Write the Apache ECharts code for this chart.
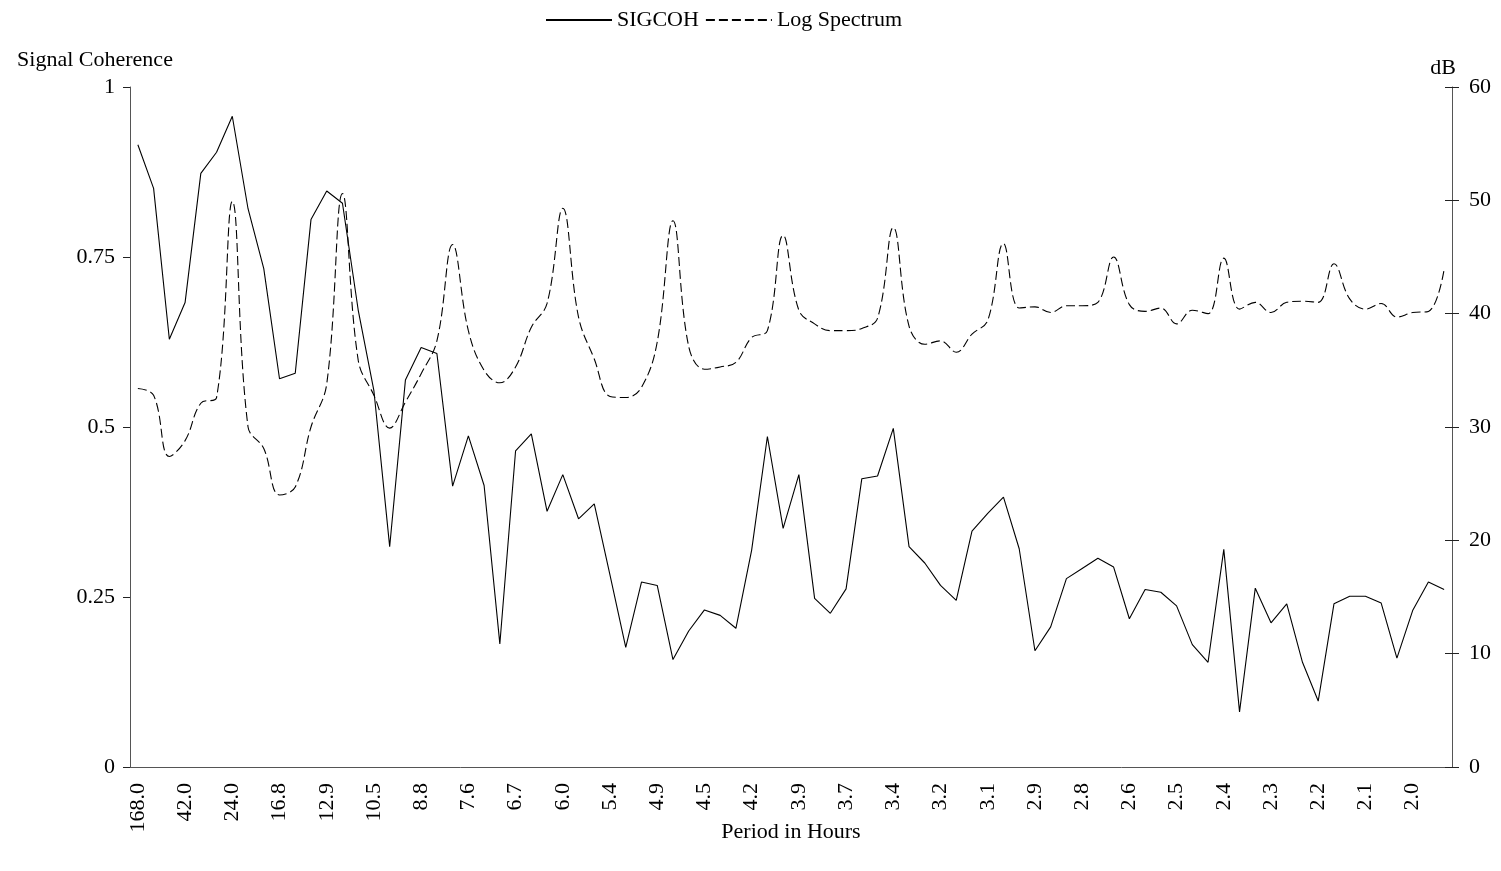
<!DOCTYPE html>
<html>
<head>
<meta charset="utf-8">
<script src="https://cdn.jsdelivr.net/npm/echarts@6/dist/echarts.min.js"></script>
<style>
html,body{margin:0;padding:0;background:#fff;}
#chart{width:1501px;height:871px;}
</style>
</head>
<body>
<div id="chart"></div>
<script>
// Period in hours (168/k, k = 1..84)
var periods = [
"168.0","84.0","56.0","42.0","33.6","28.0","24.0","21.0","18.7","16.8",
"15.3","14.0","12.9","12.0","11.2","10.5","9.9","9.3","8.8","8.4",
"8.0","7.6","7.3","7.0","6.7","6.5","6.2","6.0","5.8","5.6",
"5.4","5.3","5.1","4.9","4.8","4.7","4.5","4.4","4.3","4.2",
"4.1","4.0","3.9","3.8","3.7","3.7","3.6","3.5","3.4","3.4",
"3.3","3.2","3.2","3.1","3.1","3.0","2.9","2.9","2.8","2.8",
"2.8","2.7","2.7","2.6","2.6","2.5","2.5","2.5","2.4","2.4",
"2.4","2.3","2.3","2.3","2.2","2.2","2.2","2.2","2.1","2.1",
"2.1","2.0","2.0","2.0"
];

var sigcoh = [
0.915,0.851,0.629,0.683,0.873,0.904,0.957,0.821,0.733,0.571,
0.579,0.805,0.847,0.829,0.672,0.553,0.324,0.569,0.617,0.608,
0.413,0.487,0.414,0.181,0.465,0.490,0.376,0.430,0.365,0.387,
0.282,0.176,0.272,0.267,0.158,0.200,0.231,0.223,0.204,0.319,
0.486,0.351,0.430,0.248,0.226,0.262,0.424,0.428,0.498,0.324,
0.300,0.267,0.245,0.347,0.373,0.397,0.321,0.171,0.206,0.277,
0.292,0.307,0.294,0.218,0.261,0.257,0.237,0.180,0.154,0.320,
0.081,0.263,0.212,0.240,0.154,0.097,0.240,0.251,0.251,0.241,
0.160,0.230,0.272,0.261
];

var logSpectrum = [
33.4,32.8,27.4,28.8,32.1,32.6,49.9,30.0,28.1,24.0,
24.7,30.0,33.8,50.6,35.9,32.8,29.9,32.2,34.7,37.6,
46.1,38.5,35.0,33.9,35.3,38.8,40.9,49.3,39.7,36.0,
32.7,32.6,33.5,37.5,48.2,37.1,35.1,35.3,35.7,37.9,
38.5,46.9,40.3,39.1,38.5,38.5,38.7,39.6,47.6,38.9,
37.3,37.6,36.6,38.2,39.4,46.2,40.5,40.6,40.1,40.7,
40.7,41.0,45.0,40.8,40.2,40.5,39.1,40.3,40.0,44.9,
40.4,41.0,40.1,41.0,41.1,41.0,44.4,41.3,40.4,40.9,
39.7,40.1,40.2,43.9
];

var leftTicks = [0, 0.25, 0.5, 0.75, 1];
var rightTicks = [0, 10, 20, 30, 40, 50, 60];

var FONT = "'Liberation Serif', 'Times New Roman', serif";
var txt = {fontFamily: FONT, fontSize: 22, color: '#000'};

var chart = echarts.init(document.getElementById('chart'), null, {renderer: 'canvas'});
chart.setOption({
  animation: false,
  backgroundColor: '#fff',
  textStyle: {fontFamily: FONT},
  legend: {
    left: 540, top: 4,
    itemWidth: 66, itemHeight: 14, itemGap: 6,
    itemStyle: {opacity: 0},
    textStyle: txt,
    data: ['SIGCOH', 'Log Spectrum']
  },
  grid: {left: 130, top: 87, width: 1322, height: 680, containLabel: false},
  xAxis: {
    type: 'category',
    data: periods,
    boundaryGap: true,
    name: 'Period in Hours',
    nameLocation: 'middle',
    nameGap: 54,
    nameMoveOverlap: false,
    nameTextStyle: txt,
    axisLine: {lineStyle: {color: '#555', width: 1}},
    axisTick: {interval: 2, length: 7, lineStyle: {color: '#222'}},
    axisLabel: Object.assign({interval: 2, rotate: 90, margin: 16}, txt),
    splitLine: {show: false}
  },
  yAxis: [
    {
      type: 'value', position: 'left',
      min: leftTicks[0], max: leftTicks[leftTicks.length - 1], interval: 0.25,
      name: 'Signal Coherence', nameLocation: 'end', nameGap: 16,
      nameTextStyle: Object.assign({align: 'center', padding: [0, 70, 0, 0]}, txt),
      axisLine: {show: true, lineStyle: {color: '#555', width: 1}},
      axisTick: {show: true, length: 7, lineStyle: {color: '#222'}},
      axisLabel: Object.assign({margin: 15}, txt),
      splitLine: {show: false}
    },
    {
      type: 'value', position: 'right',
      min: rightTicks[0], max: rightTicks[rightTicks.length - 1], interval: 10,
      name: 'dB', nameLocation: 'end', nameGap: 8,
      nameTextStyle: Object.assign({align: 'center', padding: [0, 18, 0, 0]}, txt),
      axisLine: {show: true, lineStyle: {color: '#555', width: 1}},
      axisTick: {show: true, length: 7, lineStyle: {color: '#222'}},
      axisLabel: Object.assign({margin: 17}, txt),
      splitLine: {show: false}
    },
    {
      type: 'value', position: 'right',
      min: rightTicks[0], max: rightTicks[rightTicks.length - 1], interval: 10,
      axisLine: {show: false},
      axisTick: {show: true, inside: true, length: 7, lineStyle: {color: '#222'}},
      axisLabel: {show: false},
      splitLine: {show: false}
    }
  ],
  series: [
    {
      name: 'SIGCOH', type: 'line', yAxisIndex: 0,
      data: sigcoh, symbol: 'none', smooth: false,
      lineStyle: {color: '#000', width: 1.1, type: 'solid'},
      itemStyle: {color: '#000'}
    },
    {
      name: 'Log Spectrum', type: 'line', yAxisIndex: 1,
      data: logSpectrum, symbol: 'none', smooth: 0.4,
      lineStyle: {color: '#000', width: 1.1, type: [9, 4]},
      itemStyle: {color: '#000'}
    }
  ]
});
</script>
</body>
</html>
